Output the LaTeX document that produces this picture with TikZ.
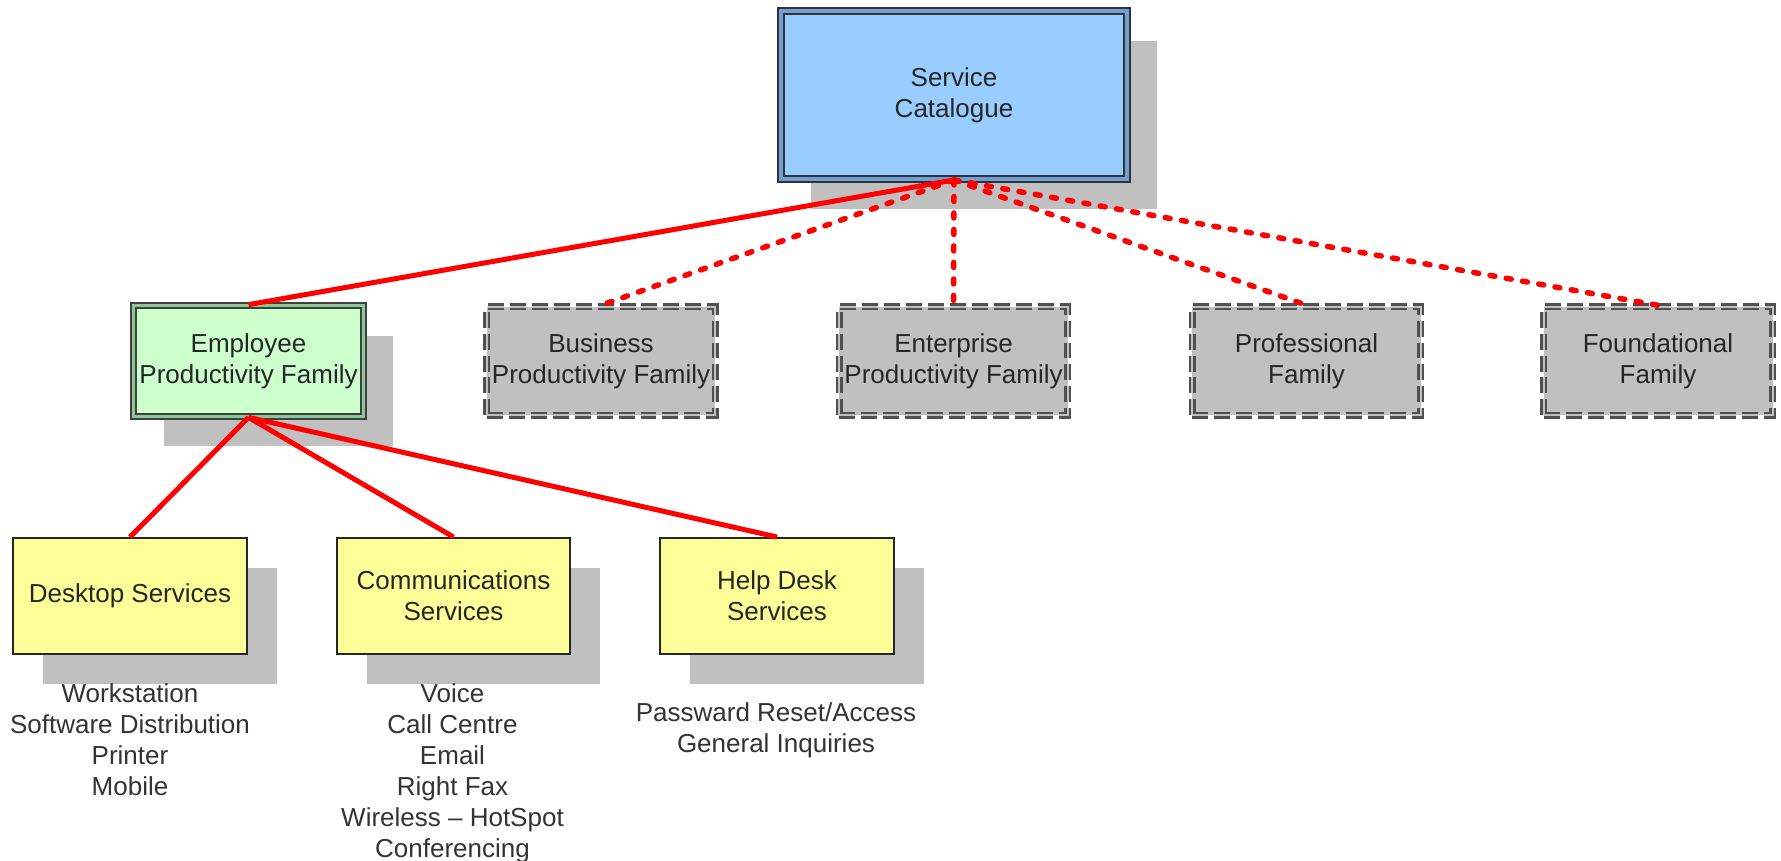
\documentclass[tikz,border=0pt]{standalone}
\usepackage{fontspec}
\setmainfont{Liberation Sans}
\usetikzlibrary{shadows}
\definecolor{catblue}{RGB}{153,204,255}
\definecolor{catband}{RGB}{110,160,215}
\definecolor{empgreen}{RGB}{204,255,204}
\definecolor{empband}{RGB}{140,200,150}
\definecolor{famgray}{RGB}{192,192,192}
\definecolor{famdash}{RGB}{80,80,80}
\definecolor{svcyellow}{RGB}{255,255,153}
\definecolor{boxshadow}{RGB}{192,192,192}
\tikzset{
	box/.style={rectangle, align=center, text=black!85, inner sep=0pt},
	shade/.style={drop shadow={shadow xshift=0.6cm, shadow yshift=-0.6cm, fill=boxshadow, opacity=1}},
	catalog/.style={fill=catblue, draw=black!80, line width=0.04cm, double=catband, double distance=0.08cm,
		minimum width=6.92cm, minimum height=3.36cm, shade},
	family/.style={fill=empgreen, draw=black!75, line width=0.035cm, double=empband, double distance=0.07cm,
		minimum width=4.6cm, minimum height=2.22cm, shade},
	planned/.style={fill=famgray, draw=famdash, line width=0.05cm, double=famgray, double distance=0.04cm,
		dash pattern=on 0.32cm off 0.12cm, minimum width=4.58cm, minimum height=2.18cm},
	service/.style={fill=svcyellow, draw=black!85, line width=0.04cm,
		minimum width=4.68cm, minimum height=2.32cm, shade},
	items/.style={align=center, text=black!80, inner sep=0pt},
	live/.style={red, line width=0.1cm},
	plan/.style={red, line width=0.11cm, line cap=round, dash pattern=on 0.1cm off 0.23cm}
}
\begin{document}
\begin{tikzpicture}[x=0.02cm, y=-0.02cm, font=\fontsize{14.8}{17.6}\selectfont]
	\useasboundingbox (0,0) rectangle (1781,861);
	% catalogue and families
	\node (cat) at (954, 95)	[box, catalog]	{Service\\Catalogue};
	\node (emp) at (248.5, 361)	[box, family]	{Employee\\Productivity Family};
	\node (bus) at (601, 361)	[box, planned]	{Business\\Productivity Family};
	\node (ent) at (953.5, 361)	[box, planned]	{Enterprise\\Productivity Family};
	\node (pro) at (1306.5, 361)	[box, planned]	{Professional\\Family};
	\node (fnd) at (1658, 361)	[box, planned]	{Foundational\\Family};
	% services
	\node (desk) at (130, 596)	[box, service]	{Desktop Services};
	\node (comm) at (453.5, 596)	[box, service]	{Communications\\Services};
	\node (help) at (777, 596)	[box, service]	{Help Desk\\Services};
	\node (deskitems) at (130, 739.5)	[items]	{Workstation\\Software Distribution\\Printer\\Mobile};
	\node (commitems) at (452.5, 773)	[items]	{Voice\\Call Centre\\Email\\Right Fax\\Wireless -- HotSpot\\Conferencing};
	\node (helpitems) at (776, 730)	[items]	{Passward Reset/Access\\General Inquiries};
	% links
	\draw [live] (cat.south) -- (emp.north);
	\draw [plan] (cat.south) -- (bus.north);
	\draw [plan] (cat.south) -- (ent.north);
	\draw [plan] (cat.south) -- (pro.north);
	\draw [plan] (cat.south) -- (fnd.north);
	\draw [live] (emp.south) -- (desk.north);
	\draw [live] (emp.south) -- (comm.north);
	\draw [live] (emp.south) -- (help.north);
\end{tikzpicture}
\end{document}
